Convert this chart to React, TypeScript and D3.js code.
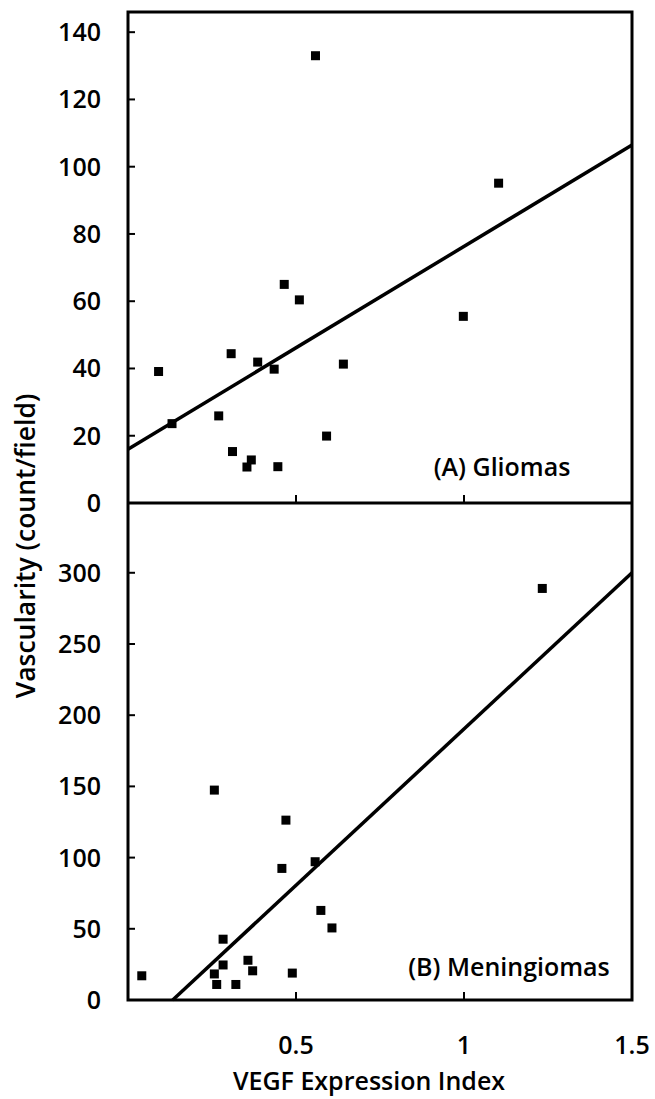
import React from "react";
import * as d3 from "d3";

const W = 655;
const H = 1099;

// Panel A (Gliomas)
const gliomaX = [0.558, 1.103, 0.465, 0.51, 0.998, 0.307, 0.386, 0.091, 0.435, 0.641, 0.27, 0.131, 0.591, 0.311, 0.367, 0.354, 0.446];
const gliomaY = [133, 95.1, 65, 60.4, 55.5, 44.4, 41.9, 39.1, 39.8, 41.3, 25.9, 23.6, 19.9, 15.3, 12.8, 10.7, 10.8];
const gliomaFit = [16, 60.3]; // intercept, slope

// Panel B (Meningiomas)
const meningX = [1.233, 0.257, 0.47, 0.458, 0.557, 0.574, 0.607, 0.283, 0.357, 0.283, 0.371, 0.257, 0.489, 0.041, 0.264, 0.321];
const meningY = [289, 147.4, 126.3, 92.4, 97.1, 62.9, 50.6, 42.7, 27.9, 24.6, 20.5, 18.3, 18.9, 17, 10.9, 10.9];
const meningFit = [-29.2, 219.5];

const gliomaTicks = [0, 20, 40, 60, 80, 100, 120, 140];
const meningTicks = [0, 50, 100, 150, 200, 250, 300];
const xTicks = [0.5, 1, 1.5];
const xTickLabels = ["0.5", "1", "1.5"];

const FONT = "'Open Sans', sans-serif";

export default function App() {
  const x = d3.scaleLinear().domain([0, 1.5]).range([128, 632]);
  const yA = d3.scaleLinear().domain([0, 146]).range([503, 12]);
  const yB = d3.scaleLinear().domain([0, 349]).range([1000, 503]);

  const line = d3.line<[number, number]>();

  const fitPts = (fit: number[], y: d3.ScaleLinear<number, number>, x0: number): [number, number][] => {
    const [b, m] = fit;
    return [
      [x(x0), y(b + m * x0)],
      [x(1.5), y(b + m * 1.5)],
    ];
  };
  const meningX0 = -meningFit[0] / meningFit[1];

  const panel = (
    xs: number[],
    ys: number[],
    y: d3.ScaleLinear<number, number>,
    ticks: number[],
    fit: [number, number][],
    label: string,
    labelX: number,
    labelY: number
  ) => (
    <g>
      {ticks.map((t) => (
        <g key={t}>
          <line x1={x(0)} x2={x(0) + 7} y1={y(t)} y2={y(t)} stroke="#000" strokeWidth={2} />
          <text x={101} y={y(t)} dy="0.36em" textAnchor="end" fontSize={25} fontFamily={FONT} fontWeight={600}>
            {t}
          </text>
        </g>
      ))}
      {xTicks.slice(0, 2).map((t) => (
        <line key={t} x1={x(t)} x2={x(t)} y1={y(0)} y2={y(0) - 8} stroke="#000" strokeWidth={2} />
      ))}
      <path d={line(fit) || ""} stroke="#000" strokeWidth={3.5} fill="none" />
      {xs.map((v, i) => (
        <rect key={i} x={x(v) - 4.5} y={y(ys[i]) - 4.5} width={9} height={9} fill="#000" />
      ))}
      <text x={labelX} y={labelY} textAnchor="middle" fontSize={25} fontFamily={FONT} fontWeight={600}>
        {label}
      </text>
    </g>
  );

  return (
    <svg width={W} height={H} style={{ position: "absolute", left: 0, top: 0, background: "#fff" }}>
      <rect x={0} y={0} width={W} height={H} fill="#fff" />
      {panel(gliomaX, gliomaY, yA, gliomaTicks, fitPts(gliomaFit, yA, 0), "(A) Gliomas", 502, 476)}
      {panel(meningX, meningY, yB, meningTicks, fitPts(meningFit, yB, meningX0), "(B) Meningiomas", 509, 976)}
      <rect x={128} y={12} width={632 - 128} height={1000 - 12} fill="none" stroke="#000" strokeWidth={3} />
      <line x1={128} x2={632} y1={503} y2={503} stroke="#000" strokeWidth={3} />
      {xTicks.map((t, i) => (
        <text key={t} x={x(t)} y={1054} textAnchor="middle" fontSize={25} fontFamily={FONT} fontWeight={600}>
          {xTickLabels[i]}
        </text>
      ))}
      <text x={369} y={1090} textAnchor="middle" fontSize={25} fontFamily={FONT} fontWeight={600}>
        VEGF Expression Index
      </text>
      <text
        transform={`translate(35, 546) rotate(-90)`}
        textAnchor="middle"
        fontSize={26.5}
        fontFamily={FONT}
        fontWeight={600}
      >
        Vascularity (count/field)
      </text>
    </svg>
  );
}
